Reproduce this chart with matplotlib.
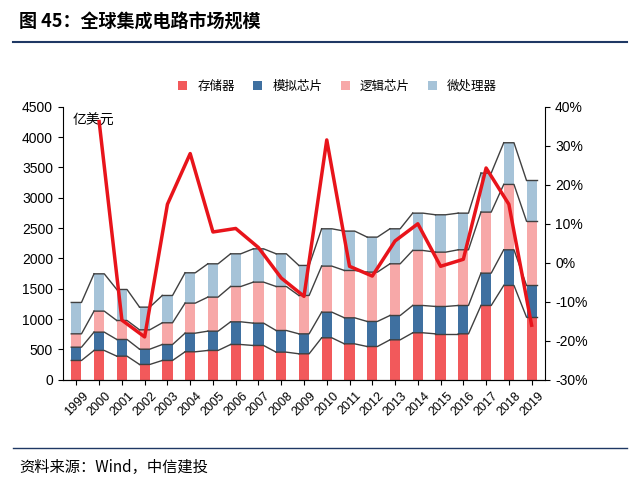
import matplotlib.pyplot as plt
import numpy as np

plt.rcParams['font.family'] = ['Noto Sans CJK SC', 'DejaVu Sans']

years = [str(y) for y in range(1999, 2020)]
memory = [319, 484, 390, 253, 319, 462, 484, 582, 566, 456, 429, 692, 593, 549, 659, 775, 758, 758, 1225, 1555, 1033]
analog = [219, 302, 275, 252, 263, 307, 318, 374, 368, 357, 329, 423, 429, 413, 401, 450, 451, 467, 533, 588, 522]
logic = [220, 346, 313, 319, 358, 495, 561, 582, 676, 725, 632, 759, 780, 813, 852, 907, 895, 918, 1006, 1077, 1060]
micro = [517, 615, 511, 374, 450, 500, 549, 539, 549, 539, 495, 615, 649, 577, 577, 615, 616, 604, 643, 687, 671]
growth = [np.nan, 36.2, -14.7, -19.0, 15.0, 28.0, 7.9, 8.8, 3.9, -3.9, -8.6, 31.5, -0.9, -3.4,
          5.6, 10.0, -0.9, 0.9, 24.3, 15.0, -16.0]

names = ['存储器', '模拟芯片', '逻辑芯片', '微处理器']
colors = ['#F2595B', '#3F70A0', '#F7A8A8', '#A6C3D8']

fig = plt.figure(figsize=(6.4, 4.92), dpi=100)
ax = fig.add_axes([0.098, 0.228, 0.754, 0.555])
x = np.arange(len(years))
w = 0.45
bottom = np.zeros(len(years))
for vals, c, n in zip([memory, analog, logic, micro], colors, names):
    ax.bar(x, vals, w, bottom=bottom, color=c, label=n, zorder=2)
    bottom = bottom + np.array(vals)
    # connector lines between bar tops
    for i in range(len(years) - 1):
        ax.plot([x[i] - w / 2, x[i] + w / 2, x[i + 1] - w / 2], [bottom[i], bottom[i], bottom[i + 1]],
                color='#404040', lw=1, zorder=3)
    ax.plot([x[-1] - w / 2, x[-1] + w / 2], [bottom[-1], bottom[-1]], color='#404040', lw=1, zorder=3)

ax.set_xlim(-0.6, len(years) - 0.4)
ax.set_ylim(0, 4500)
ax.set_yticks(range(0, 4501, 500))
ax.set_xticks(x)
ax.set_xticklabels(years, rotation=45, fontsize=9, family='Liberation Sans')
ax.tick_params(axis='y', labelsize=10, direction='out')
for lab in ax.get_yticklabels():
    lab.set_family('Liberation Sans')
ax.text(0.02, 0.975, '亿美元', transform=ax.transAxes, fontsize=10, va='top')
for s in ['top', 'right']:
    ax.spines[s].set_visible(False)

ax2 = ax.twinx()
ax2.plot(x, growth, color='#E8141B', lw=2.5, zorder=5)
ax2.set_ylim(-30, 40)
ax2.set_yticks(range(-30, 41, 10))
ax2.set_yticklabels([f'{v}%' for v in range(-30, 41, 10)], fontsize=10, family='Liberation Sans')
ax2.spines['top'].set_visible(False)
ax2.spines['left'].set_visible(False)

ax.legend(loc='lower center', bbox_to_anchor=(0.57, 1.01), ncol=4, frameon=False, fontsize=9,
          handlelength=0.7, handleheight=0.7, columnspacing=1.5)

fig.text(0.03, 0.955, '图 45：全球集成电路市场规模', fontsize=13, fontweight='bold', va='center')
fig.add_artist(plt.Line2D([0.02, 0.98], [0.915, 0.915], color='#1F3864', lw=1.5))
fig.add_artist(plt.Line2D([0.02, 0.98], [0.09, 0.09], color='#1F3864', lw=1))
fig.text(0.03, 0.05, '资料来源：Wind，中信建投', fontsize=11, style='italic', va='center')

fig.savefig('out.png', dpi=100)
